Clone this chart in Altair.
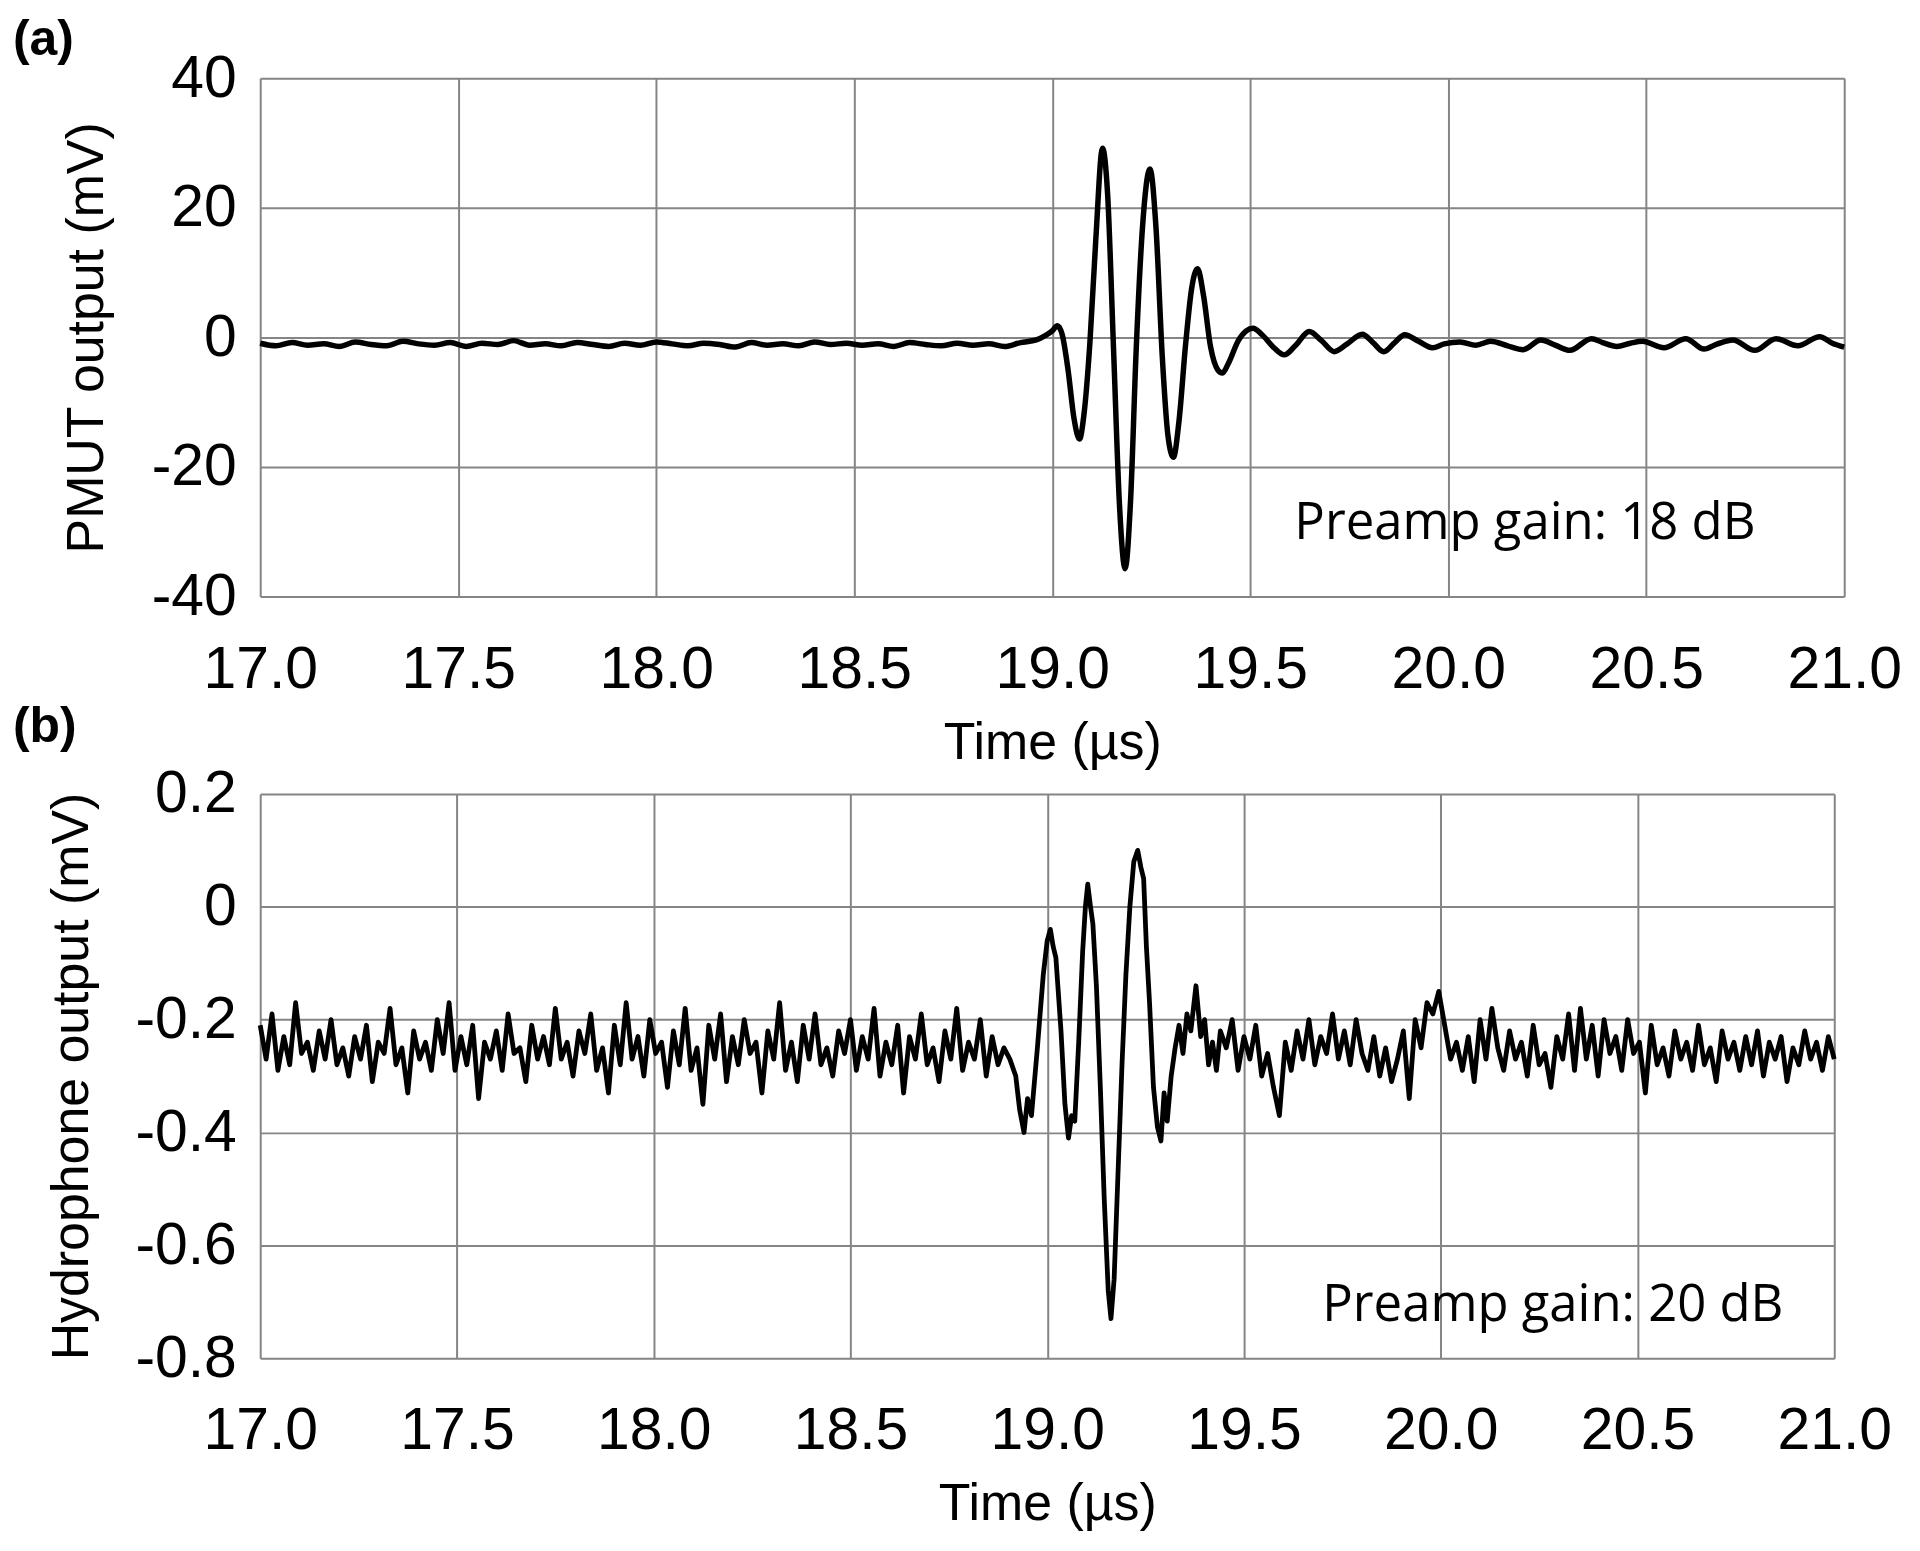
import altair as alt
import pandas as pd

# ---------------- data ----------------
x_ticks = [17.0, 17.5, 18.0, 18.5, 19.0, 19.5, 20.0, 20.5, 21.0]
a_y_ticks = [-40, -20, 0, 20, 40]
b_y_ticks = [-0.8, -0.6, -0.4, -0.2, 0.0, 0.2]
a_note = "Preamp gain: 18 dB"
b_note = "Preamp gain: 20 dB"
a_label = "(a)"
b_label = "(b)"

# (a) PMUT output (mV) vs time (us)
a_time = [
    17.00, 17.04, 17.08, 17.12, 17.16, 17.20, 17.24, 17.28, 17.32, 17.36,
    17.40, 17.44, 17.48, 17.52, 17.56, 17.60, 17.64, 17.68, 17.72, 17.76,
    17.80, 17.84, 17.88, 17.92, 17.96, 18.00, 18.04, 18.08, 18.12, 18.16,
    18.20, 18.24, 18.28, 18.32, 18.36, 18.40, 18.44, 18.48, 18.52, 18.56,
    18.60, 18.64, 18.68, 18.72, 18.76, 18.80, 18.84, 18.88, 18.92, 18.96,
    18.98, 19.000, 19.013, 19.025, 19.040, 19.055, 19.069, 19.080, 19.095, 19.110,
    19.127, 19.140, 19.155, 19.170, 19.184, 19.198, 19.212, 19.228, 19.247, 19.262,
    19.278, 19.292, 19.306, 19.320, 19.337, 19.352, 19.367, 19.382, 19.400, 19.418,
    19.430, 19.445, 19.470, 19.490, 19.507, 19.530, 19.560, 19.586, 19.615, 19.649,
    19.680, 19.712, 19.745, 19.783, 19.810, 19.837, 19.865, 19.890, 19.925, 19.960,
    19.990, 20.030, 20.070, 20.107, 20.150, 20.189, 20.234, 20.270, 20.307, 20.362,
    20.390, 20.426, 20.460, 20.490, 20.545, 20.600, 20.646, 20.680, 20.719, 20.774,
    20.828, 20.883, 20.938, 20.970, 21.000,
]
a_volt = [
    -0.9, -1.3, -0.8, -1.2, -1.0, -1.4, -0.7, -1.1, -1.3, -0.6,
    -1.0, -1.2, -0.8, -1.4, -0.9, -1.1, -0.5, -1.2, -1.0, -1.3,
    -0.8, -1.1, -1.4, -0.9, -1.2, -0.7, -1.0, -1.3, -0.9, -1.1,
    -1.5, -0.8, -1.2, -1.0, -1.3, -0.7, -1.1, -0.9, -1.2, -1.0,
    -1.4, -0.8, -1.1, -1.3, -0.9, -1.2, -1.0, -1.4, -0.8, -0.4,
    0.2, 1.0, 1.8, 0.5, -5.0, -12.5, -15.7, -12.0, -1.0, 15.0,
    29.2, 22.0, -2.0, -26.0, -35.7, -25.0, -2.0, 17.0, 26.0, 17.0,
    -3.0, -15.0, -18.5, -13.0, -1.0, 7.5, 10.6, 6.5, -1.5, -5.0,
    -5.5, -4.0, -0.5, 1.0, 1.4, 0.4, -1.6, -2.7, -1.2, 0.9,
    -0.5, -2.2, -1.0, 0.5, -0.8, -2.2, -0.8, 0.4, -0.6, -1.6,
    -1.0, -0.7, -1.2, -0.6, -1.3, -1.9, -0.4, -1.2, -2.0, -0.2,
    -0.8, -1.4, -0.9, -0.6, -1.6, -0.2, -1.8, -1.0, -0.4, -2.0,
    -0.2, -1.3, 0.1, -0.9, -1.5,
]

# (b) Hydrophone output (mV) vs time (us)
b_time = [
    17.000, 17.015, 17.030, 17.045, 17.060, 17.075, 17.090, 17.105, 17.120, 17.135,
    17.150, 17.165, 17.180, 17.195, 17.210, 17.225, 17.240, 17.255, 17.270, 17.285,
    17.300, 17.315, 17.330, 17.345, 17.360, 17.375, 17.390, 17.405, 17.420, 17.435,
    17.450, 17.465, 17.480, 17.495, 17.510, 17.525, 17.540, 17.555, 17.570, 17.585,
    17.600, 17.615, 17.630, 17.645, 17.660, 17.675, 17.690, 17.705, 17.720, 17.735,
    17.750, 17.765, 17.780, 17.795, 17.810, 17.825, 17.840, 17.855, 17.870, 17.885,
    17.900, 17.915, 17.930, 17.945, 17.960, 17.975, 17.990, 18.005, 18.020, 18.035,
    18.050, 18.065, 18.080, 18.095, 18.110, 18.125, 18.140, 18.155, 18.170, 18.185,
    18.200, 18.215, 18.230, 18.245, 18.260, 18.275, 18.290, 18.305, 18.320, 18.335,
    18.350, 18.365, 18.380, 18.395, 18.410, 18.425, 18.440, 18.455, 18.470, 18.485,
    18.500, 18.515, 18.530, 18.545, 18.560, 18.575, 18.590, 18.605, 18.620, 18.635,
    18.650, 18.665, 18.680, 18.695, 18.710, 18.725, 18.740, 18.755, 18.770, 18.785,
    18.800, 18.815, 18.830, 18.845, 18.860, 18.875, 18.890,
    18.905, 18.920, 18.930, 18.941, 18.950, 18.960, 18.975, 18.990, 19.000, 19.008,
    19.015, 19.022, 19.035, 19.045, 19.054, 19.062, 19.070, 19.080, 19.090, 19.097,
    19.103, 19.110, 19.116, 19.125, 19.135, 19.145, 19.155, 19.162, 19.170, 19.180,
    19.190, 19.200, 19.210, 19.220, 19.230, 19.238, 19.245, 19.252, 19.260, 19.270,
    19.280, 19.289, 19.297, 19.305, 19.315, 19.325, 19.335, 19.345, 19.355, 19.365,
    19.378, 19.390, 19.400, 19.410, 19.420, 19.430, 19.440,
    19.455, 19.470, 19.485, 19.500, 19.515, 19.530, 19.545, 19.560, 19.575, 19.590,
    19.605, 19.620, 19.635, 19.650, 19.665, 19.680, 19.695, 19.710, 19.725, 19.740,
    19.755, 19.770, 19.785, 19.800, 19.815, 19.830, 19.845, 19.860, 19.875, 19.890,
    19.905, 19.920, 19.935, 19.950, 19.965, 19.980, 19.995, 20.010, 20.025, 20.040,
    20.055, 20.070, 20.085, 20.100, 20.115, 20.130, 20.145, 20.160, 20.175, 20.190,
    20.205, 20.220, 20.235, 20.250, 20.265, 20.280, 20.295, 20.310, 20.325, 20.340,
    20.355, 20.370, 20.385, 20.400, 20.415, 20.430, 20.445, 20.460, 20.475, 20.490,
    20.505, 20.520, 20.535, 20.550, 20.565, 20.580, 20.595, 20.610, 20.625, 20.640,
    20.655, 20.670, 20.685, 20.700, 20.715, 20.730, 20.745, 20.760, 20.775, 20.790,
    20.805, 20.820, 20.835, 20.850, 20.865, 20.880, 20.895, 20.910, 20.925, 20.940,
    20.955, 20.970, 20.985, 21.000,
]
b_volt = [
    -0.21, -0.27, -0.19, -0.29, -0.23, -0.28, -0.17, -0.26, -0.24, -0.29,
    -0.22, -0.27, -0.20, -0.28, -0.25, -0.30, -0.23, -0.27, -0.21, -0.31,
    -0.24, -0.26, -0.18, -0.28, -0.25, -0.33, -0.22, -0.27, -0.24, -0.29,
    -0.20, -0.26, -0.17, -0.29, -0.23, -0.28, -0.21, -0.34, -0.24, -0.27,
    -0.22, -0.29, -0.19, -0.26, -0.25, -0.31, -0.21, -0.27, -0.23, -0.28,
    -0.18, -0.27, -0.24, -0.30, -0.22, -0.26, -0.19, -0.29, -0.25, -0.33,
    -0.21, -0.28, -0.17, -0.27, -0.23, -0.30, -0.20, -0.26, -0.24, -0.32,
    -0.22, -0.28, -0.18, -0.29, -0.25, -0.35, -0.21, -0.27, -0.19, -0.31,
    -0.23, -0.28, -0.20, -0.26, -0.24, -0.33, -0.22, -0.27, -0.17, -0.29,
    -0.24, -0.31, -0.21, -0.27, -0.19, -0.28, -0.25, -0.30, -0.22, -0.26,
    -0.20, -0.29, -0.23, -0.27, -0.18, -0.30, -0.24, -0.28, -0.21, -0.33,
    -0.23, -0.27, -0.19, -0.28, -0.25, -0.31, -0.22, -0.27, -0.18, -0.29,
    -0.24, -0.27, -0.20, -0.30, -0.23, -0.28, -0.25,
    -0.27, -0.30, -0.36, -0.40, -0.34, -0.37, -0.25, -0.12, -0.06, -0.04,
    -0.07, -0.09, -0.22, -0.35, -0.41, -0.37, -0.38, -0.24, -0.08, 0.00,
    0.04, 0.00, -0.03, -0.14, -0.32, -0.52, -0.68, -0.73, -0.66, -0.47,
    -0.28, -0.12, 0.00, 0.08, 0.10, 0.07, 0.05, -0.07, -0.17, -0.32,
    -0.39, -0.415, -0.33, -0.38, -0.30, -0.25, -0.21, -0.26, -0.19, -0.22,
    -0.14, -0.23, -0.20, -0.28, -0.24, -0.29, -0.22,
    -0.25, -0.20, -0.29, -0.23, -0.27, -0.21, -0.30, -0.26, -0.32, -0.37,
    -0.24, -0.29, -0.22, -0.27, -0.20, -0.28, -0.23, -0.26, -0.19, -0.27,
    -0.22, -0.28, -0.20, -0.26, -0.29, -0.23, -0.30, -0.25, -0.31, -0.27,
    -0.22, -0.34, -0.20, -0.25, -0.17, -0.19, -0.15, -0.21, -0.27, -0.24,
    -0.29, -0.23, -0.31, -0.20, -0.27, -0.18, -0.25, -0.29, -0.22, -0.27,
    -0.24, -0.30, -0.21, -0.28, -0.26, -0.32, -0.23, -0.27, -0.19, -0.29,
    -0.18, -0.27, -0.21, -0.30, -0.20, -0.26, -0.23, -0.29, -0.20, -0.26,
    -0.24, -0.33, -0.21, -0.28, -0.25, -0.30, -0.22, -0.27, -0.24, -0.29,
    -0.21, -0.28, -0.25, -0.31, -0.22, -0.27, -0.24, -0.29, -0.23, -0.28,
    -0.22, -0.30, -0.24, -0.27, -0.23, -0.31, -0.25, -0.28, -0.22, -0.27,
    -0.24, -0.29, -0.23, -0.27,
]

# ---------------- style ----------------
AXIS_FONT = "Liberation Sans"
NOTE_FONT = "Open Sans"
GRID = "#858585"

A_W, A_H = 1589, 520
B_W, B_H = 1579, 566

df_a = pd.DataFrame({"t": a_time, "v": a_volt})
df_b = pd.DataFrame({"t": b_time, "v": b_volt})


def x_axis():
    return alt.Axis(
        values=x_ticks, format=".1f", title="Time (µs)",
        grid=True, gridColor=GRID, gridWidth=2,
        ticks=False, domain=False,
        labelFont=AXIS_FONT, labelFontSize=59, labelColor="black",
        labelPadding=44, labelFlush=False,
        titleFont=AXIS_FONT, titleFontSize=52, titleFontWeight="normal",
        titleColor="black", titleY=146, titleBaseline="middle",
    )


def y_axis(values, title, expr, title_x, height):
    return alt.Axis(
        values=values, title=title, labelExpr=expr,
        grid=True, gridColor=GRID, gridWidth=2,
        ticks=False, domain=False,
        labelFont=AXIS_FONT, labelFontSize=59, labelColor="black",
        labelPadding=24, labelFlush=False, minExtent=252,
        titleFont=AXIS_FONT, titleFontSize=52, titleFontWeight="normal",
        titleColor="black", titleX=title_x, titleY=height / 2,
        titleAngle=-90, titleBaseline="middle", titleAlign="center",
    )


xs = alt.Scale(domain=[17.0, 21.0], nice=False, zero=False)

a_line = alt.Chart(df_a).mark_line(
    color="black", strokeWidth=5.5, interpolate="monotone", strokeJoin="round"
).encode(
    x=alt.X("t:Q", scale=xs, axis=x_axis()),
    y=alt.Y("v:Q", scale=alt.Scale(domain=[-40, 40], nice=False),
            axis=y_axis(a_y_ticks, "PMUT output (mV)",
                        "datum.value < 0 ? '-' + format(-datum.value, 'd') : format(datum.value, 'd')",
                        -174, A_H)),
)
a_text = alt.Chart(pd.DataFrame({"s": [a_note]})).mark_text(
    font=NOTE_FONT, fontSize=51, color="black", align="right", baseline="alphabetic"
).encode(x=alt.value(A_W - 89), y=alt.value(462), text="s:N")
a_tag = alt.Chart(pd.DataFrame({"s": [a_label]})).mark_text(
    font=AXIS_FONT, fontSize=50, fontWeight="bold", color="black", align="left", baseline="top"
).encode(x=alt.value(-248), y=alt.value(-63), text="s:N")

panel_a = alt.layer(a_line, a_text, a_tag).properties(width=A_W, height=A_H)

b_line = alt.Chart(df_b).mark_line(
    color="black", strokeWidth=4.8, strokeJoin="round"
).encode(
    x=alt.X("t:Q", scale=xs, axis=x_axis()),
    y=alt.Y("v:Q", scale=alt.Scale(domain=[-0.8, 0.2], nice=False, zero=False),
            axis=y_axis(b_y_ticks, "Hydrophone output (mV)",
                        "(datum.value < -0.001 ? '-' : '') + format(abs(datum.value), '.1~f')",
                        -189, B_H)),
)
b_text = alt.Chart(pd.DataFrame({"s": [b_note]})).mark_text(
    font=NOTE_FONT, fontSize=51, color="black", align="right", baseline="alphabetic"
).encode(x=alt.value(B_W - 51), y=alt.value(529), text="s:N")
b_tag = alt.Chart(pd.DataFrame({"s": [b_label]})).mark_text(
    font=AXIS_FONT, fontSize=50, fontWeight="bold", color="black", align="left", baseline="top"
).encode(x=alt.value(-248), y=alt.value(-92), text="s:N")

panel_b = alt.layer(b_line, b_text, b_tag).properties(width=B_W, height=B_H)

chart = alt.vconcat(panel_a, panel_b, spacing=198, bounds="flush").properties(
    padding={"left": 0, "top": 4, "right": 10, "bottom": 10}
).configure_view(
    stroke="black", strokeWidth=3
).configure(background="white")

chart.save("out.html", embed_options={"renderer": "svg", "actions": False})
